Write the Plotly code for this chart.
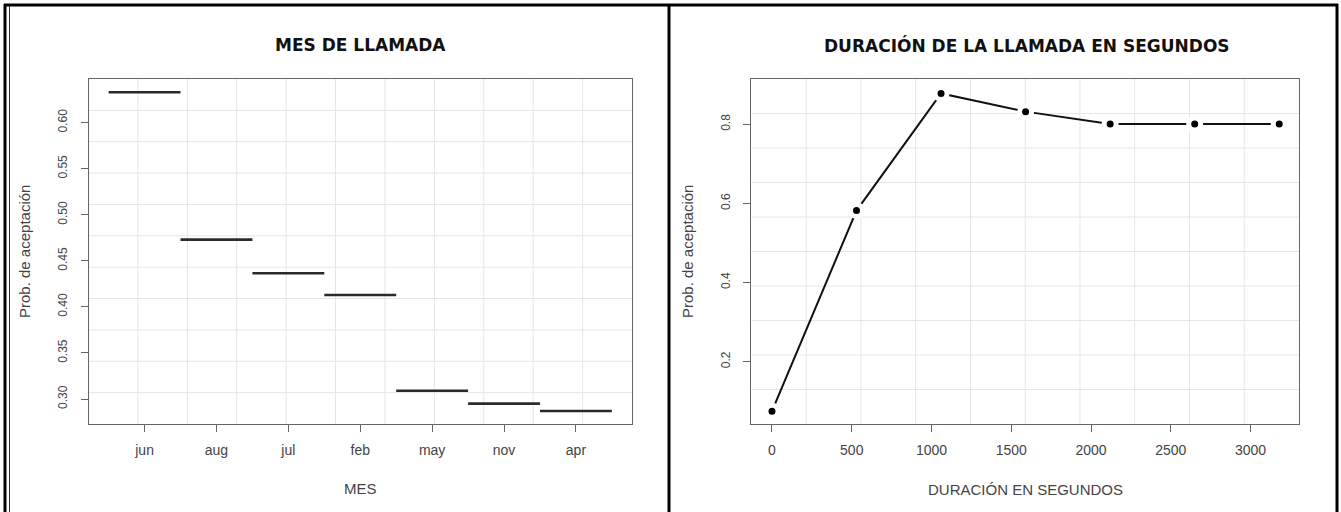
import plotly.graph_objects as go

# Monthly acceptance probability (step segments per month)
months = ["jun", "aug", "jul", "feb", "may", "nov", "apr"]
prob_month = [0.633, 0.473, 0.4365, 0.413, 0.309, 0.295, 0.287]

# Acceptance probability by call duration (seconds)
duration = [0, 530, 1060, 1590, 2120, 2650, 3180]
prob_duration = [0.075, 0.582, 0.878, 0.832, 0.801, 0.801, 0.801]

W, H = 1341, 512


def px_x(v):
    return v / W


def px_y(v):
    return 1 - v / H


fig = go.Figure()

# Left panel: one horizontal segment per month, centred on its category
seg_x, seg_y = [], []
for i, p in enumerate(prob_month):
    seg_x += [i - 0.5, i + 0.5, None]
    seg_y += [p, p, None]
fig.add_trace(go.Scatter(
    x=seg_x, y=seg_y, mode="lines", xaxis="x", yaxis="y",
    line=dict(color="#2a2a2a", width=2.6), showlegend=False, hoverinfo="skip",
))

# Right panel: line with points, gaps around each point
fig.add_trace(go.Scatter(
    x=duration, y=prob_duration, mode="lines", xaxis="x2", yaxis="y2",
    line=dict(color="#111111", width=2), showlegend=False,
))
fig.add_trace(go.Scatter(
    x=duration, y=prob_duration, mode="markers", xaxis="x2", yaxis="y2",
    marker=dict(color="#000000", size=12, line=dict(color="white", width=5)),
    showlegend=False, cliponaxis=False,
))

axis_common = dict(
    showline=True, mirror=True, linecolor="#666666", linewidth=1,
    ticks="outside", ticklen=7, tickcolor="#666666", tickwidth=1,
    showgrid=False, zeroline=False,
)
xtick_font = dict(family="Liberation Sans", size=14, color="#444444")
ytick_font = dict(family="Liberation Sans", size=12, color="#444444")

y_dom = [px_y(424), px_y(79)]

fig.update_layout(
    width=W, height=H,
    margin=dict(l=0, r=0, t=0, b=0),
    paper_bgcolor="white", plot_bgcolor="white",
    font=dict(family="Liberation Sans", color="#444444"),
    xaxis=dict(
        domain=[px_x(88.5), px_x(632)], range=[-0.78, 6.78],
        tickmode="array", tickvals=list(range(len(months))), ticktext=months,
        tickfont=xtick_font, ticklabelstandoff=6, **axis_common,
    ),
    yaxis=dict(
        domain=y_dom, range=[0.2729, 0.6474],
        tickmode="array", tickvals=[0.30, 0.35, 0.40, 0.45, 0.50, 0.55, 0.60],
        tickformat=".2f", tickangle=-90, tickfont=ytick_font,
        ticklabelstandoff=9, **axis_common,
    ),
    xaxis2=dict(
        domain=[px_x(751.4), px_x(1299)], range=[-129, 3304], anchor="y2",
        tickmode="array", tickvals=[0, 500, 1000, 1500, 2000, 2500, 3000],
        tickfont=xtick_font, ticklabelstandoff=6, **axis_common,
    ),
    yaxis2=dict(
        domain=y_dom, range=[0.0425, 0.9145], anchor="x2",
        tickmode="array", tickvals=[0.2, 0.4, 0.6, 0.8],
        tickformat=".1f", tickangle=-90, tickfont=ytick_font,
        ticklabelstandoff=9, **axis_common,
    ),
)

shapes = []
# Light background grids (evenly divided plot regions)
grid_color = "#e6e6e6"
for xr, yr, n in (("x domain", "y domain", 11), ("x2 domain", "y2 domain", 10)):
    for k in range(1, n):
        f = k / n
        shapes.append(dict(type="line", xref=xr, yref=yr, x0=f, x1=f, y0=0, y1=1,
                           line=dict(color=grid_color, width=1), layer="below"))
        shapes.append(dict(type="line", xref=xr, yref=yr, x0=0, x1=1, y0=f, y1=f,
                           line=dict(color=grid_color, width=1), layer="below"))

# Outer frame around the two panels
frame = dict(color="black", width=3)
shapes += [
    dict(type="line", xref="paper", yref="paper", x0=px_x(4), x1=px_x(1338),
         y0=px_y(5), y1=px_y(5), line=frame),
    dict(type="line", xref="paper", yref="paper", x0=px_x(5), x1=px_x(5),
         y0=px_y(4), y1=0, line=frame),
    dict(type="line", xref="paper", yref="paper", x0=px_x(9.5), x1=px_x(9.5),
         y0=px_y(6), y1=0, line=dict(color="#333333", width=1)),
    dict(type="line", xref="paper", yref="paper", x0=px_x(669), x1=px_x(669),
         y0=px_y(4), y1=0, line=frame),
    dict(type="line", xref="paper", yref="paper", x0=px_x(1337), x1=px_x(1337),
         y0=px_y(4), y1=0, line=frame),
]
fig.update_layout(shapes=shapes)

title_font = dict(family="DejaVu Sans", size=17, color="#111111", weight="bold")
label_font = dict(family="Liberation Sans", size=15, color="#444444")

annotations = [
    dict(text="MES DE LLAMADA", x=px_x(360), y=px_y(45), font=title_font),
    dict(text="DURACIÓN DE LA LLAMADA EN SEGUNDOS", x=px_x(1027), y=px_y(45),
         font=title_font),
    dict(text="MES", x=px_x(360), y=px_y(488), font=label_font),
    dict(text="DURACIÓN EN SEGUNDOS", x=px_x(1025), y=px_y(489), font=label_font),
    dict(text="Prob. de aceptación", x=px_x(24), y=px_y(252), textangle=-90,
         font=label_font),
    dict(text="Prob. de aceptación", x=px_x(687), y=px_y(252), textangle=-90,
         font=label_font),
]
for a in annotations:
    a.update(xref="paper", yref="paper", showarrow=False,
             xanchor="center", yanchor="middle")
fig.update_layout(annotations=annotations)

fig.write_html("out.html")
